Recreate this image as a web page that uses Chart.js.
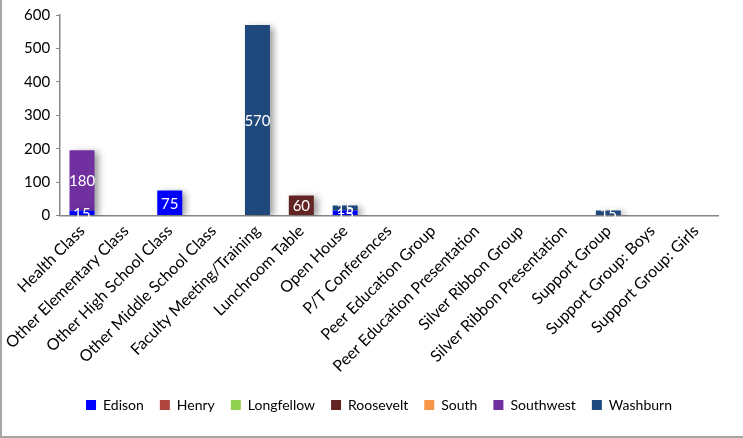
<!DOCTYPE html>
<html>
<head>
<meta charset="utf-8">
<script src="https://cdn.jsdelivr.net/npm/chart.js@4"></script>
<style>
  html, body { margin: 0; padding: 0; background: #fff; }
  #wrap {
    position: relative;
    width: 743px;
    height: 438px;
    box-sizing: border-box;
    border-left: 2px solid #a6a6a6;
    border-bottom: 2px solid #a6a6a6;
  }
</style>
</head>
<body>
<div id="wrap"><canvas id="chart-bar"></canvas></div>
<script>
const categories = [
  "Health Class",
  "Other Elementary Class",
  "Other High School Class",
  "Other Middle School Class",
  "Faculty Meeting/Training",
  "Lunchroom Table",
  "Open House",
  "P/T Conferences",
  "Peer Education Group",
  "Peer Education Presentation",
  "Silver Ribbon Group",
  "Silver Ribbon Presentation",
  "Support Group",
  "Support Group: Boys",
  "Support Group: Girls",
];
const edison     = [15, 0, 75, 0, 0, 0, 15, 0, 0, 0, 0, 0, 0, 0, 0];
const henry      = [0, 0, 0, 0, 0, 0, 0, 0, 0, 0, 0, 0, 0, 0, 0];
const longfellow = [0, 0, 0, 0, 0, 0, 0, 0, 0, 0, 0, 0, 0, 0, 0];
const roosevelt  = [0, 0, 0, 0, 0, 60, 0, 0, 0, 0, 0, 0, 0, 0, 0];
const south      = [0, 0, 0, 0, 0, 0, 0, 0, 0, 0, 0, 0, 0, 0, 0];
const southwest  = [180, 0, 0, 0, 0, 0, 0, 0, 0, 0, 0, 0, 0, 0, 0];
const washburn   = [0, 0, 0, 0, 570, 0, 15, 0, 0, 0, 0, 0, 15, 0, 0];
const yTicks = [0, 100, 200, 300, 400, 500, 600];

const fontFamily = "Lato, 'Open Sans', sans-serif";

// ========== datasets ==========
const series = [
  { label: "Edison", data: edison, color: "#0000FF" },
  { label: "Henry", data: henry, color: "#B0453F" },
  { label: "Longfellow", data: longfellow, color: "#92D050" },
  { label: "Roosevelt", data: roosevelt, color: "#632523" },
  { label: "South", data: south, color: "#F79646" },
  { label: "Southwest", data: southwest, color: "#7030A0" },
  { label: "Washburn", data: washburn, color: "#1F497D" },
];

const data1 = {
  labels: categories,
  datasets: series.map((s) => ({
    label: s.label,
    data: s.data,
    backgroundColor: s.color,
    borderWidth: 0,
    barPercentage: 0.57,
    categoryPercentage: 1,
  })),
};

// plugin: soft shadow behind bars
const barShadow = {
  id: "barShadow",
  beforeDatasetsDraw: (chart) => {
    const { ctx } = chart;
    ctx.save();
    ctx.shadowColor = "rgba(0,0,0,0.4)";
    ctx.shadowBlur = 7;
    ctx.shadowOffsetX = 4;
    ctx.shadowOffsetY = 2;
  },
  afterDatasetsDraw: (chart) => {
    chart.ctx.restore();
  },
};

// plugin: white value labels in the middle of each segment
const valueLabels = {
  id: "valueLabels",
  afterDatasetsDraw: (chart) => {
    const { ctx } = chart;
    ctx.save();
    ctx.font = "15px " + fontFamily;
    ctx.fillStyle = "#ffffff";
    ctx.textAlign = "center";
    ctx.textBaseline = "middle";
    chart.data.datasets.forEach((dataset, i) => {
      const meta = chart.getDatasetMeta(i);
      meta.data.forEach((bar, j) => {
        const v = dataset.data[j];
        if (!v) return;
        const yMid = (bar.y + bar.base) / 2;
        ctx.fillText(String(v), bar.x, yMid + 1);
      });
    });
    ctx.restore();
  },
};

// plugin: nudge the legend a bit right, the original is centred under the plot
const legendShift = {
  id: "legendShift",
  afterLayout: (chart) => {
    if (!chart.legend) return;
    chart.legend.left += 11;
    chart.legend.right += 11;
  },
};

const ctxBar = document.getElementById("chart-bar").getContext("2d");
const chartStackedBar = new Chart(ctxBar, {
  type: "bar",
  data: data1,
  options: {
    responsive: true,
    maintainAspectRatio: false,
    animation: false,
    layout: {
      padding: { top: 8, right: 25, left: 16, bottom: 14 },
    },
    plugins: {
      legend: {
        position: "bottom",
        labels: {
          boxWidth: 10,
          boxHeight: 10,
          padding: 16,
          color: "#000000",
          font: { size: 14, family: fontFamily },
        },
      },
      tooltip: { enabled: false },
    },
    scales: {
      x: {
        stacked: true,
        grid: { display: false, drawTicks: false },
        border: { color: "#868686", width: 1.5 },
        ticks: {
          minRotation: 45,
          maxRotation: 45,
          padding: 6,
          autoSkip: false,
          color: "#000000",
          font: { size: 16, family: fontFamily },
        },
      },
      y: {
        stacked: true,
        min: 0,
        max: 600,
        afterBuildTicks: (axis) => {
          axis.ticks = yTicks.map((v) => ({ value: v }));
        },
        grid: {
          display: true,
          drawOnChartArea: false,
          drawTicks: true,
          tickLength: 4,
          color: "#868686",
        },
        border: { color: "#868686", width: 1.5 },
        ticks: {
          padding: 6,
          color: "#000000",
          font: { size: 15, family: fontFamily },
        },
      },
    },
  },
  plugins: [barShadow, valueLabels, legendShift],
});
</script>
</body>
</html>
